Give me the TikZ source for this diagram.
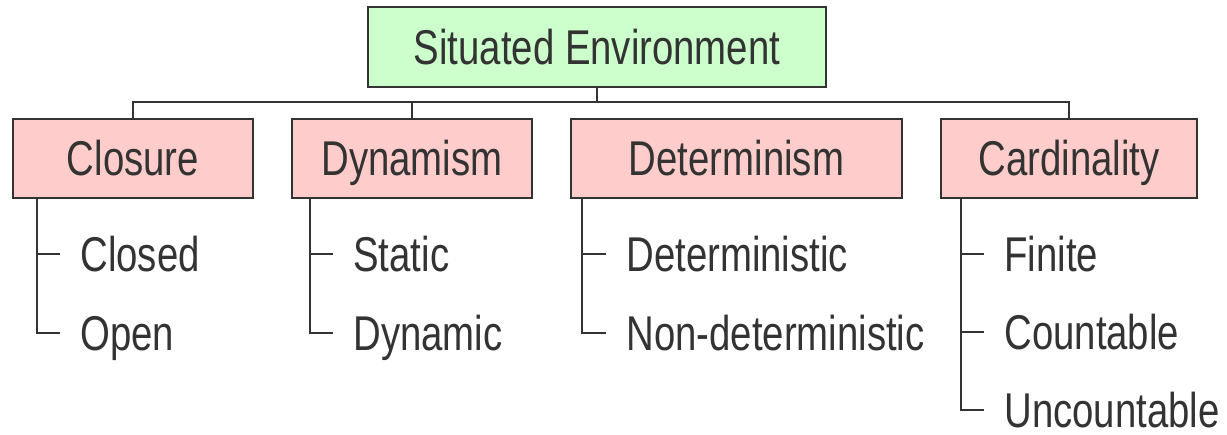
\documentclass[tikz,border=0pt]{standalone}
\usepackage{fontspec}
\setmainfont{Liberation Sans}[FakeStretch=0.785]
\usetikzlibrary{positioning}

\definecolor{envgreen}{RGB}{204,255,204}
\definecolor{catpink}{RGB}{255,204,204}
\definecolor{inkgray}{RGB}{51,51,51}

\tikzset{
  box/.style={draw=inkgray, line width=1.1pt, inner sep=0pt,
    text height=0.7cm, text depth=0pt, text=inkgray},
  rootbox/.style={box, fill=envgreen, minimum width=9.16cm, minimum height=1.6cm},
  catbox/.style={box, fill=catpink, minimum height=1.58cm},
  leaf/.style={anchor=west, inner sep=0pt,
    text height=0.7cm, text depth=0pt, text=inkgray},
  link/.style={draw=inkgray, line width=1pt},
  buslink/.style={draw=inkgray, line width=1.6pt}
}

\begin{document}
\begin{tikzpicture}[x=0.02cm,y=-0.02cm,on grid,node distance=1.58cm,
  font=\fontsize{27.8pt}{32pt}\selectfont]
\useasboundingbox (0,0) rectangle (1227,435);

% root and categories
\node[rootbox] (env) at (597,47) {Situated Environment};
\node[catbox, minimum width=4.8cm] (closure) at (133,158.5) {Closure};
\node[catbox, minimum width=4.8cm] (dynamism) at (412,158.5) {Dynamism};
\node[catbox, minimum width=6.62cm] (determinism) at (736.5,158.5) {Determinism};
\node[catbox, minimum width=5.12cm] (cardinality) at (1069,158.5) {Cardinality};

% leaves
\node[leaf] (closed) at (80,254) {Closed};
\node[leaf, below=of closed.west, anchor=west] (open) {Open};
\node[leaf] (static) at (353,254) {Static};
\node[leaf, below=of static.west, anchor=west] (dynamic) {Dynamic};
\node[leaf] (deterministic) at (626,254) {Deterministic};
\node[leaf, below=of deterministic.west, anchor=west] (nondet) {Non-deterministic};
\node[leaf] (finite) at (1004,254) {Finite};
\node[leaf, below=1.56cm of finite.west, anchor=west] (countable) {Countable};
\node[leaf, below=1.56cm of countable.west, anchor=west] (uncountable) {Uncountable};

% tree lines
\coordinate (bus) at (597,102);
\draw[link] (env.south) -- (bus) -| (closure.north);
\draw[link] (bus) -| (cardinality.north);
\draw[link] (bus -| dynamism.north) -- (dynamism.north);
\draw[buslink] (bus) -- (bus -| dynamism.north);

\draw[link] (closure.south west) ++(25,0) |- ([xshift=-0.4cm]closed.west);
\draw[link] (closure.south west) ++(25,0) |- ([xshift=-0.4cm]open.west);
\draw[link] (dynamism.south west) ++(19,0) |- ([xshift=-0.4cm]static.west);
\draw[link] (dynamism.south west) ++(19,0) |- ([xshift=-0.4cm]dynamic.west);
\draw[link] (determinism.south west) ++(12,0) |- ([xshift=-0.4cm]deterministic.west);
\draw[link] (determinism.south west) ++(12,0) |- ([xshift=-0.4cm]nondet.west);
\draw[link] (cardinality.south west) ++(21,0) |- ([xshift=-0.4cm]finite.west);
\draw[link] (cardinality.south west) ++(21,0) |- ([xshift=-0.4cm]countable.west);
\draw[link] (cardinality.south west) ++(21,0) |- ([xshift=-0.4cm]uncountable.west);
\end{tikzpicture}
\end{document}
